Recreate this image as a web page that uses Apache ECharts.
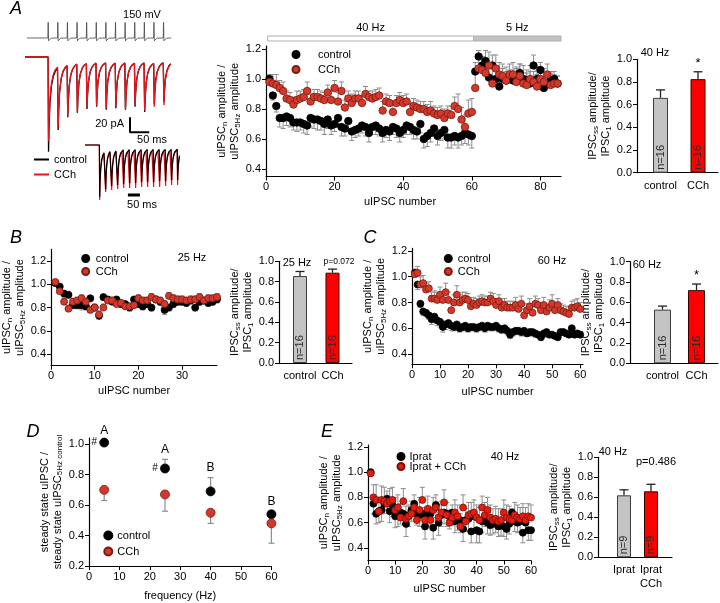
<!DOCTYPE html>
<html><head><meta charset="utf-8">
<script src="https://cdn.jsdelivr.net/npm/echarts@6.0.0/dist/echarts.min.js"></script>
<style>html,body{margin:0;padding:0;background:#fff}#c{width:720px;height:603px}</style>
</head><body><div id="c"></div>
<script>
// ---------------- DATA ----------------
// Panel A traces (stimulus times in ms, trough amplitudes in pA)
const stimTopMs = [60,85,110,135,160,185,210,235,260,285,310,335,360];
const trTopCtrl = [-126,-97,-80,-74,-69,-66,-70,-68,-70,-66,-73,-63,-60];
const trTopCch  = [-112,-93,-79,-73,-68,-65,-68,-66,-69,-65,-71,-66,-64];
const stimBotMs = [60,85,110,135,160,185,210,235,260,285,310,335,360,385];
const trBotCtrl = [-104,-88,-82,-80,-78,-76,-76,-74,-74,-74,-72,-72,-70,-70];
const trBotCch  = [-110,-94,-90,-88,-86,-86,-86,-84,-84,-84,-84,-82,-80,-80];
const decayMs   = [1.2, 2.5, 5, 9, 14, 19, 24.5];
const decayFrac = [1.0, 0.74, 0.48, 0.30, 0.20, 0.15, 0.12];
const spikeMs   = [-0.6, 0.3, 1.3, 3.5, 8];
const spikeMv   = [-70, 30, -88, -76, -71];

// Panel A 40 Hz / 5 Hz train
const aStimSeg = [[0.5, 60.5], [60.5, 86]];
const aStimLbl = ['40 Hz', '5 Hz'];
const aCtrl = [1.00,0.89,0.82,0.74,0.74,0.75,0.74,0.71,0.71,0.71,
 0.70,0.69,0.74,0.73,0.73,0.72,0.70,0.73,0.69,0.70,
 0.74,0.68,0.67,0.72,0.65,0.66,0.67,0.69,0.68,0.64,
 0.68,0.69,0.67,0.64,0.66,0.65,0.68,0.67,0.64,0.66,
 0.69,0.68,0.66,0.65,0.70,0.60,0.62,0.64,0.67,0.62,
 0.64,0.66,0.61,0.61,0.62,0.61,0.62,0.64,0.63,0.62,
 1.05,1.15,1.09,1.12,1.01,1.09,1.00,0.95,1.00,0.99,
 1.00,0.99,1.00,1.04,1.00,0.99,0.97,1.09,1.00,1.06,
 0.94,0.97,0.99,1.00,0.97];
const aCch = [0.98,0.97,0.96,0.94,0.92,0.87,0.86,0.83,0.86,0.87,
 0.88,0.92,0.85,0.88,0.88,0.87,0.86,0.91,0.86,0.94,
 0.85,0.92,0.81,0.87,0.84,0.87,0.87,0.84,0.90,0.88,
 0.87,0.88,0.89,0.79,0.85,0.84,0.78,0.84,0.86,0.84,
 0.85,0.78,0.82,0.81,0.80,0.80,0.78,0.79,0.77,0.76,
 0.77,0.74,0.77,0.76,0.82,0.80,0.73,0.68,0.77,0.78,
 0.94,1.07,1.06,1.04,1.09,0.97,1.07,1.03,1.02,0.99,
 1.03,1.03,0.98,1.02,0.97,0.96,1.00,0.98,0.95,1.00,
 0.98,1.03,0.96,0.97,0.97];
const aCtrlErr = [-0.02,-0.03,-0.04,-0.06,-0.07,-0.06,-0.06,-0.05,-0.06,-0.05,
 -0.06,-0.06,-0.06,-0.06,-0.07,-0.06,-0.07,-0.06,-0.06,-0.05,
 -0.06,-0.06,-0.05,-0.06,-0.06,-0.05,-0.05,-0.05,-0.06,-0.06,
 -0.05,-0.06,-0.05,-0.06,-0.05,-0.06,-0.05,-0.06,-0.06,-0.05,
 -0.06,-0.05,-0.06,-0.05,-0.06,-0.06,-0.07,-0.06,-0.05,-0.06,
 -0.05,-0.06,-0.07,-0.07,-0.06,-0.07,-0.06,-0.07,-0.07,-0.08,
 0.06,0.04,0.06,0.07,0.08,0.07,0.09,0.05,0.07,0.06,
 0.06,0.07,0.08,0.06,0.09,0.07,0.08,0.07,0.06,0.05,
 0.08,0.07,0.06,0.05,0.05];
const aCchErr = [0.05,0.06,0.07,0.05,0.06,0.05,0.05,0.05,0.06,0.05,
 0.05,0.06,0.05,0.05,0.05,0.05,0.05,0.05,0.06,0.05,
 0.06,0.06,0.05,0.05,0.06,0.05,0.05,0.05,0.05,0.04,
 0.05,0.05,0.05,0.06,0.05,0.05,0.06,0.05,0.05,0.05,
 0.05,0.06,0.05,0.05,0.05,0.05,0.05,0.06,0.05,0.05,
 0.05,0.06,0.05,0.06,0.06,0.10,0.08,0.08,0.09,0.09,
 0.10,0.08,0.09,0.08,0.09,0.10,0.09,0.08,0.08,0.09,
 0.07,0.08,0.09,0.08,0.07,0.08,0.09,0.07,0.08,0.08,
 0.09,0.07,0.08,0.06,0.05];

// Panel B (25 Hz)
const bCtrl = [1.01,0.98,0.92,0.91,0.82,0.82,0.82,0.81,0.88,0.80,
 0.73,0.89,0.87,0.85,0.87,0.83,0.83,0.80,0.87,0.83,
 0.81,0.83,0.80,0.87,0.85,0.78,0.80,0.83,0.85,0.85,
 0.84,0.86,0.80,0.85,0.86,0.84,0.85,0.87];
const bCch = [1.02,0.94,0.85,0.79,0.85,0.86,0.88,0.85,0.78,0.80,
 0.74,0.80,0.86,0.86,0.83,0.84,0.81,0.81,0.82,0.88,
 0.86,0.86,0.89,0.87,0.86,0.83,0.90,0.88,0.87,0.87,
 0.86,0.87,0.87,0.89,0.86,0.88,0.88,0.89];
const bCtrlErr = [-0.02,-0.03,-0.03,-0.03,-0.03,-0.03,-0.04,-0.03,-0.03,-0.03,
 -0.03,-0.03,-0.03,-0.02,-0.03,-0.03,-0.03,-0.03,-0.03,-0.03,
 -0.03,-0.03,-0.03,-0.03,-0.03,-0.04,-0.03,-0.03,-0.03,-0.03,
 -0.03,-0.03,-0.03,-0.03,-0.03,-0.03,-0.03,-0.03];
const bCchErr = [0.02,0.03,0.03,0.03,0.03,0.03,0.03,0.03,0.03,0.03,
 0.03,0.03,0.03,0.03,0.03,0.03,0.03,0.03,0.03,0.03,
 0.03,0.03,0.03,0.03,0.03,0.03,0.03,0.03,0.03,0.03,
 0.03,0.03,0.03,0.03,0.03,0.03,0.03,0.03];

// Panel C (60 Hz)
const cCtrl = [1.03,0.94,0.79,0.73,0.72,0.70,0.67,0.69,0.66,0.65,
 0.61,0.63,0.64,0.62,0.61,0.63,0.60,0.61,0.62,0.60,
 0.61,0.61,0.60,0.61,0.62,0.60,0.62,0.61,0.61,0.62,
 0.60,0.59,0.60,0.58,0.55,0.57,0.58,0.58,0.57,0.58,
 0.56,0.57,0.57,0.56,0.55,0.53,0.56,0.57,0.55,0.55,
 0.54,0.53,0.57,0.57,0.56,0.55,0.60,0.55,0.56,0.55];
const cCch = [1.02,1.03,0.94,0.95,0.90,0.91,0.83,0.83,0.82,0.86,
 0.82,0.88,0.82,0.74,0.80,0.86,0.80,0.82,0.83,0.82,
 0.77,0.79,0.78,0.80,0.81,0.80,0.80,0.83,0.81,0.78,
 0.81,0.76,0.78,0.76,0.76,0.76,0.78,0.75,0.79,0.70,
 0.74,0.77,0.72,0.79,0.78,0.74,0.78,0.73,0.76,0.79,
 0.74,0.78,0.74,0.73,0.72,0.71,0.76,0.76,0.77,0.75];
const cCtrlErr = [-0.03,-0.04,-0.03,-0.03,-0.03,-0.03,-0.04,-0.03,-0.04,-0.04,
 -0.04,-0.04,-0.03,-0.04,-0.03,-0.04,-0.03,-0.03,-0.04,-0.03,
 -0.03,-0.03,-0.03,-0.03,-0.03,-0.03,-0.03,-0.03,-0.03,-0.03,
 -0.03,-0.03,-0.03,-0.03,-0.03,-0.03,-0.03,-0.03,-0.03,-0.03,
 -0.02,-0.03,-0.03,-0.03,-0.02,-0.02,-0.03,-0.02,-0.02,-0.02,
 -0.02,-0.02,-0.02,-0.02,-0.02,-0.02,-0.02,-0.02,-0.02,-0.02];
const cCchErr = [0.04,0.05,0.06,0.06,0.05,0.05,0.05,0.06,0.06,0.06,
 0.06,0.07,0.06,0.06,0.06,0.07,0.06,0.06,0.05,0.05,
 0.05,0.05,0.05,0.05,0.05,0.05,0.05,0.05,0.06,0.05,
 0.05,0.05,0.05,0.05,0.05,0.05,0.06,0.05,0.06,0.05,
 0.05,0.06,0.05,0.06,0.05,0.05,0.06,0.06,0.06,0.07,
 0.05,0.05,0.05,0.05,0.05,0.06,0.05,0.06,0.06,0.05];

// Panel D (steady state vs frequency)
const dFreq = [5, 25, 40, 60];
const dCtrl = [1.01, 0.84, 0.69, 0.54];
const dCtrlErr = [0.01, 0.06, 0.09, 0.02];
const dCch = [0.70, 0.67, 0.55, 0.48];
const dCchErr = [-0.07, -0.11, -0.07, -0.13];
const dLetters = ['A', 'A', 'B', 'B'];
const dHash = ['#', '#', '', ''];

// Panel E (40 Hz, ipratropium)
const eIp = [1.00,0.75,0.67,0.69,0.70,0.75,0.79,0.69,0.74,0.65,
 0.66,0.68,0.67,0.59,0.66,0.70,0.75,0.67,0.66,0.67,
 0.57,0.67,0.67,0.56,0.74,0.60,0.66,0.68,0.67,0.65,
 0.68,0.61,0.63,0.62,0.55,0.62,0.63,0.53,0.65,0.54,
 0.53,0.61,0.65,0.60,0.58,0.59,0.60,0.57,0.58,0.57,
 0.55,0.59,0.68,0.61,0.60,0.61,0.52,0.60,0.54,0.54];
const eIpC = [0.99,0.80,0.78,0.69,0.78,0.77,0.75,0.77,0.78,0.70,
 0.72,0.64,0.77,0.63,0.65,0.67,0.72,0.62,0.70,0.78,
 0.62,0.71,0.62,0.70,0.72,0.64,0.68,0.76,0.66,0.60,
 0.64,0.68,0.65,0.57,0.72,0.61,0.66,0.67,0.68,0.64,
 0.62,0.72,0.66,0.70,0.64,0.62,0.63,0.61,0.62,0.68,
 0.64,0.63,0.62,0.66,0.64,0.63,0.65,0.62,0.65,0.64];
const eIpErr = [-0.01,-0.08,-0.08,-0.09,-0.09,-0.08,-0.09,-0.09,-0.09,-0.09,
 -0.09,-0.09,-0.09,-0.10,-0.09,-0.09,-0.10,-0.09,-0.09,-0.10,
 -0.10,-0.09,-0.10,-0.09,-0.10,-0.10,-0.09,-0.09,-0.10,-0.10,
 -0.10,-0.09,-0.09,-0.10,-0.10,-0.09,-0.09,-0.09,-0.10,-0.10,
 -0.09,-0.09,-0.08,-0.09,-0.08,-0.08,-0.08,-0.08,-0.08,-0.08,
 -0.08,-0.08,-0.08,-0.08,-0.08,-0.08,-0.08,-0.08,-0.08,-0.08];
const eIpCErr = [0.02,0.10,0.12,0.11,0.11,0.11,0.10,0.10,0.10,0.10,
 0.10,0.11,0.10,0.10,0.09,0.10,0.10,0.09,0.10,0.10,
 0.10,0.10,0.09,0.10,0.10,0.10,0.09,0.10,0.10,0.10,
 0.10,0.10,0.09,0.10,0.10,0.10,0.10,0.09,0.10,0.10,
 0.10,0.09,0.10,0.10,0.10,0.09,0.10,0.10,0.09,0.10,
 0.10,0.10,0.09,0.10,0.10,0.09,0.10,0.10,0.10,0.10];

// Bar panels: steady-state / first IPSC
const aBarCats = ['control', 'CCh'];
const aBarVals = [0.66, 0.825]; const aBarErr = [0.07, 0.065]; const aBarN = ['n=16', 'n=16']; const aBarSig = ['', '*'];
const bBarCats = ['control', 'CCh'];
const bBarVals = [0.855, 0.888]; const bBarErr = [0.045, 0.035]; const bBarN = ['n=16', 'n=16']; const bBarSig = ['', ''];
const cBarCats = ['control', 'CCh'];
const cBarVals = [0.528, 0.72]; const cBarErr = [0.035, 0.06]; const cBarN = ['n=16', 'n=16']; const cBarSig = ['', '*'];
const eBarCats = ['Iprat', 'Iprat\nCCh'];
const eBarVals = [0.62, 0.66]; const eBarErr = [0.055, 0.07]; const eBarN = ['n=9', 'n=9']; const eBarSig = ['', ''];

// ---------------- BUILD ----------------
const FONT = "'Liberation Sans', Arial, Helvetica, sans-serif";
const F = (s, w) => (w || '') + ' ' + s + 'px ' + FONT;
const RED = '#d2392c', REDB = '#7a1b12', ERRG = '#8e8e8e';

const idx = n => Array.from({length: n}, (_, i) => i + 1);
const pairs = (xs, ys) => xs.map((x, i) => [x, ys[i]]);

function buildTrace(stims, troughs, endMs) {
  const pts = [[0, 0]]; let prev = 0;
  stims.forEach((t, i) => {
    const next = i < stims.length - 1 ? stims[i + 1] : endMs;
    pts.push([t, prev]);
    decayMs.forEach((d, k) => {
      if (t + d <= next) { prev = troughs[i] * decayFrac[k]; pts.push([t + d, prev]); }
    });
  });
  return pts;
}
function buildSpikes(stims, start, end) {
  const pts = [[start, spikeMv[0]]];
  stims.forEach(t => spikeMs.forEach((d, k) => pts.push([t + d, spikeMv[k]])));
  pts.push([end, spikeMv[0]]);
  return pts;
}

const RICH = {
  n: {fontSize: 11, fontFamily: FONT, color: '#000', lineHeight: 13},
  s: {fontSize: 8, fontFamily: FONT, color: '#000', lineHeight: 6, verticalAlign: 'bottom'}
};
const NTS = {fontSize: 11, fontFamily: FONT, color: '#000'};
const YNTS = {fontSize: 11, fontFamily: FONT, color: '#000', lineHeight: 13, rich: RICH};
const f1 = v => v.toFixed(1);
const f0 = v => String(v);

function vAxis(gi, min, max, ticks, fmt, extra) {
  return Object.assign({
    type: 'value', gridIndex: gi, min: min, max: max,
    axisLine: {show: true, onZero: false, lineStyle: {color: '#000', width: 1.2}},
    axisTick: {show: true, length: 4, customValues: ticks, lineStyle: {color: '#000', width: 1}},
    axisLabel: {show: true, customValues: ticks, formatter: fmt, fontSize: 11, fontFamily: FONT, color: '#000', margin: 5},
    splitLine: {show: false}
  }, extra || {});
}
function hidAxis(gi, min, max) { return {type: 'value', gridIndex: gi, min: min, max: max, show: false, splitLine: {show: false}}; }
function barXAxis(gi, min, max, cats) {
  return {
    type: 'value', gridIndex: gi, min: min, max: max,
    axisLine: {show: true, onZero: false, lineStyle: {color: '#000', width: 1.2}},
    axisTick: {show: false},
    axisLabel: {show: true, customValues: [1, 2], formatter: v => cats[Math.round(v) - 1], fontSize: 11, fontFamily: FONT, color: '#000', margin: 6, lineHeight: 14},
    splitLine: {show: false}
  };
}
const yNameCur = '{n|uIPSC}{s|n}{n| amplitude /}\n{n|uIPSC}{s|5Hz}{n| amplitude}';
const yNameBar = '{n|IPSC}{s|ss}{n| amplitude/}\n{n|IPSC}{s|1}{n| amplitude}';
const yNameD = '{n|steady state uIPSC /}\n{n|steady state uIPSC}{s|5Hz control}';
const yName = (name, gap) => ({name: name, nameLocation: 'middle', nameRotate: 90, nameGap: gap, nameTextStyle: YNTS});
const xName = (name, gap, pad) => ({name: name, nameLocation: 'middle', nameGap: gap, nameTextStyle: Object.assign({}, NTS, pad ? {padding: pad} : {})});

function errSeries(gi, xs, ys, es, color, cap, lw) {
  return {
    type: 'custom', xAxisIndex: gi, yAxisIndex: gi, z: 2, silent: true,
    data: xs.map((x, i) => [x, ys[i], es[i]]),
    renderItem: (p, api) => {
      const x = api.value(0), y = api.value(1), e = api.value(2);
      const a = api.coord([x, y]), b = api.coord([x, y + e]);
      return {type: 'group', children: [
        {type: 'line', shape: {x1: a[0], y1: a[1], x2: b[0], y2: b[1]}, style: {stroke: color, lineWidth: lw}},
        {type: 'line', shape: {x1: b[0] - cap, y1: b[1], x2: b[0] + cap, y2: b[1]}, style: {stroke: color, lineWidth: lw}}
      ]};
    }
  };
}
function scat(gi, name, xs, ys, color, border, size, z) {
  return {type: 'scatter', name: name, xAxisIndex: gi, yAxisIndex: gi, z: z, silent: true,
    data: pairs(xs, ys), symbol: 'circle', symbolSize: size,
    itemStyle: {color: color, borderColor: border, borderWidth: 0.8, opacity: 1}};
}
function barSeries(gi, vals, nlab, width) {
  const styles = [{color: '#c4c4c4', borderColor: '#3c3c3c', borderWidth: 1}, {color: '#ff0000', borderColor: '#3a0000', borderWidth: 1}];
  return {type: 'bar', xAxisIndex: gi, yAxisIndex: gi, barWidth: width, silent: true, z: 2,
    data: vals.map((v, i) => ({value: [i + 1, v], itemStyle: styles[i]})),
    label: {show: true, position: 'insideBottom', rotate: 90, align: 'left', verticalAlign: 'middle', distance: 3,
      formatter: p => nlab[p.dataIndex], fontSize: 11, fontFamily: FONT, color: '#2a2a2a'}};
}
function barErrSeries(gi, vals, errs, sig) {
  return {type: 'custom', xAxisIndex: gi, yAxisIndex: gi, z: 3, silent: true,
    data: vals.map((v, i) => [i + 1, v, errs[i]]),
    renderItem: (p, api) => {
      const x = api.value(0), y = api.value(1), e = api.value(2);
      const a = api.coord([x, y]), b = api.coord([x, y + e]);
      const ch = [
        {type: 'line', shape: {x1: a[0], y1: a[1], x2: b[0], y2: b[1]}, style: {stroke: '#222', lineWidth: 1.3}},
        {type: 'line', shape: {x1: b[0] - 4.5, y1: b[1], x2: b[0] + 4.5, y2: b[1]}, style: {stroke: '#222', lineWidth: 1.3}}
      ];
      const s = sig[p.dataIndex];
      if (s) ch.push({type: 'text', style: {text: s, x: b[0], y: b[1] - 2, align: 'center', verticalAlign: 'bottom', font: F(13), fill: '#000'}});
      return {type: 'group', children: ch};
    }};
}

const aN = idx(85), bN = idx(38), cN = idx(60), eN = idx(60);

const grids = [
  {left: 25, top: 20, width: 150, height: 25},      // 0 voltage trace
  {left: 25, top: 50, width: 150, height: 110},     // 1 current traces (top)
  {left: 85, top: 140, width: 100, height: 65},     // 2 current traces (bottom)
  {left: 266, top: 46, width: 295, height: 130.5},  // 3 A scatter
  {left: 637, top: 59.3, width: 81, height: 113.4}, // 4 A bar
  {left: 51, top: 249.4, width: 166, height: 116.3},// 5 B scatter
  {left: 279, top: 261.3, width: 73, height: 101.7},// 6 B bar
  {left: 412, top: 248.4, width: 171, height: 115.9},// 7 C scatter
  {left: 630, top: 261.7, width: 88, height: 101.6},// 8 C bar
  {left: 89, top: 438, width: 182.4, height: 128.1},// 9 D
  {left: 368, top: 445, width: 163, height: 115.5}, // 10 E scatter
  {left: 598, top: 457.3, width: 74, height: 100}   // 11 E bar
].map(g => Object.assign(g, {containLabel: false, outerBoundsMode: 'none'}));

const yTicksCur = [0.4, 0.6, 0.8, 1.0, 1.2];
const yTicksBar = [0, 0.2, 0.4, 0.6, 0.8, 1.0];

const xAxes = [
  hidAxis(0, 0, 390), hidAxis(1, 0, 390), hidAxis(2, 0, 417),
  vAxis(3, 0, 86, [0, 20, 40, 60, 80], f0, xName('uIPSC number', 20, [0, 27, 0, 0])),
  barXAxis(4, 0.373, 2.533, aBarCats),
  vAxis(5, 0, 38, [0, 10, 20, 30], f0, xName('uIPSC number', 20)),
  barXAxis(6, 0.354, 2.6, bBarCats),
  vAxis(7, 0, 61, [0, 10, 20, 30, 40, 50, 60], f0, xName('uIPSC number', 22)),
  barXAxis(8, 0.044, 2.632, cBarCats),
  vAxis(9, 0, 60, [0, 10, 20, 30, 40, 50, 60], f0, xName('frequency (Hz)', 24)),
  vAxis(10, 0, 60, [0, 10, 20, 30, 40, 50, 60], f0, xName('uIPSC number', 23)),
  barXAxis(11, 0.037, 2.778, eBarCats)
];
const yAxes = [
  hidAxis(0, -115, 45), hidAxis(1, -137, 9.3), hidAxis(2, -120, 10),
  vAxis(3, 0.35, 1.22, yTicksCur, f1, yName(yNameCur, 22)),
  vAxis(4, 0, 1, yTicksBar, f1, yName(yNameBar, 23)),
  vAxis(5, 0.3, 1.3, yTicksCur, f1, yName(yNameCur, 23)),
  vAxis(6, 0, 1, yTicksBar, f1, yName(yNameBar, 22)),
  vAxis(7, 0.32, 1.22, yTicksCur, f1, yName(yNameCur, 23)),
  vAxis(8, 0, 1, yTicksBar, f1, yName(yNameBar, 22)),
  vAxis(9, 0.2, 1.04, [0.2, 0.4, 0.6, 0.8, 1.0], f1, yName(yNameD, 25)),
  vAxis(10, 0.3, 1.215, yTicksCur, f1, yName(yNameCur, 23)),
  vAxis(11, 0, 1, yTicksBar, f1, yName(yNameBar, 22))
];

const lineS = (gi, name, data, color, w, z) => ({type: 'line', name: name, xAxisIndex: gi, yAxisIndex: gi, data: data,
  showSymbol: false, symbol: 'none', silent: true, z: z, itemStyle: {color: color},
  lineStyle: {color: color, width: w}, animation: false});

const series = [
  // traces
  lineS(0, 'vm', buildSpikes(stimTopMs, 5, 380), '#444', 0.8, 2),
  lineS(1, 'trCtrl', buildTrace(stimTopMs, trTopCtrl, 380), '#000', 1.3, 2),
  lineS(1, 'trCch', buildTrace(stimTopMs, trTopCch, 380), '#e8141b', 1.3, 3),
  lineS(1, 'bar1', [[273, -80], [273, -100], [323, -100]], '#000', 2, 4),
  lineS(2, 'trCch2', buildTrace(stimBotMs, trBotCch, 395), '#e8141b', 1.2, 2),
  lineS(2, 'trCtrl2', buildTrace(stimBotMs, trBotCtrl, 395), '#000', 1.2, 3),
  lineS(2, 'bar2', [[179, -100], [229, -100]], '#000', 3, 4),
  // A
  {type: 'custom', xAxisIndex: 3, yAxisIndex: 3, silent: true, z: 1, data: aStimSeg,
    renderItem: (p, api) => {
      const cs = p.coordSys, i = p.dataIndex;
      const x1 = api.coord([api.value(0), 0.4])[0], x2 = api.coord([api.value(1), 0.4])[0];
      return {type: 'group', children: [
        {type: 'rect', shape: {x: x1, y: cs.y - 10, width: x2 - x1, height: 5}, style: {fill: i ? '#c2c2c2' : '#fff', stroke: '#b0b0b0', lineWidth: 1}},
        {type: 'text', style: {text: aStimLbl[i], x: (x1 + x2) / 2, y: cs.y - 18, align: 'center', verticalAlign: 'middle', font: F(11), fill: '#000'}}
      ]};
    }},
  errSeries(3, aN, aCtrl, aCtrlErr, ERRG, 2.5, 1),
  errSeries(3, aN, aCch, aCchErr, ERRG, 2.5, 1),
  scat(3, 'A_control', aN, aCtrl, '#000', '#000', 7.5, 3),
  scat(3, 'A_CCh', aN, aCch, RED, REDB, 7.5, 4),
  barSeries(4, aBarVals, aBarN, 15), barErrSeries(4, aBarVals, aBarErr, aBarSig),
  // B
  errSeries(5, bN, bCtrl, bCtrlErr, ERRG, 2.5, 1),
  errSeries(5, bN, bCch, bCchErr, ERRG, 2.5, 1),
  scat(5, 'B_control', bN, bCtrl, '#000', '#000', 7, 3),
  scat(5, 'B_CCh', bN, bCch, RED, REDB, 7, 4),
  barSeries(6, bBarVals, bBarN, 14), barErrSeries(6, bBarVals, bBarErr, bBarSig),
  // C
  errSeries(7, cN, cCtrl, cCtrlErr, ERRG, 2.5, 1),
  errSeries(7, cN, cCch, cCchErr, ERRG, 2.5, 1),
  scat(7, 'C_control', cN, cCtrl, '#000', '#000', 7, 3),
  scat(7, 'C_CCh', cN, cCch, RED, REDB, 7, 4),
  barSeries(8, cBarVals, cBarN, 17), barErrSeries(8, cBarVals, cBarErr, cBarSig),
  // D
  errSeries(9, dFreq, dCtrl, dCtrlErr, ERRG, 3, 1.2),
  errSeries(9, dFreq, dCch, dCchErr, ERRG, 3, 1.2),
  scat(9, 'D_control', dFreq, dCtrl, '#000', '#000', 9, 3),
  scat(9, 'D_CCh', dFreq, dCch, RED, REDB, 9, 4),
  {type: 'custom', xAxisIndex: 9, yAxisIndex: 9, silent: true, z: 5, data: pairs(dFreq, dCtrl).map((d, i) => d.concat([dCtrlErr[i]])),
    renderItem: (p, api) => {
      const i = p.dataIndex, x = api.value(0), y = api.value(1), e = api.value(2);
      const pt = api.coord([x, y]), top = api.coord([x, y + Math.max(e, 0)]);
      const ch = [{type: 'text', style: {text: dLetters[i], x: pt[0], y: top[1] - 4, align: 'center', verticalAlign: 'bottom', font: F(12), fill: '#000'}}];
      if (dHash[i]) ch.push({type: 'text', style: {text: dHash[i], x: pt[0] - 10, y: pt[1], align: 'center', verticalAlign: 'middle', font: F(10), fill: '#000'}});
      return {type: 'group', children: ch};
    }},
  // E
  errSeries(10, eN, eIp, eIpErr, ERRG, 2.5, 1),
  errSeries(10, eN, eIpC, eIpCErr, ERRG, 2.5, 1),
  scat(10, 'E_ip', eN, eIp, '#000', '#000', 7, 3),
  scat(10, 'E_ipc', eN, eIpC, '#e01e12', '#7a0f08', 7, 4),
  barSeries(11, eBarVals, eBarN, 14), barErrSeries(11, eBarVals, eBarErr, eBarSig)
];

const legendNames = {trCtrl: 'control', trCch: 'CCh', A_control: 'control', A_CCh: 'CCh', B_control: 'control', B_CCh: 'CCh',
  C_control: 'control', C_CCh: 'CCh', D_control: 'control', D_CCh: 'CCh', E_ip: 'Iprat', E_ipc: 'Iprat + CCh'};
const LTS = {fontSize: 11, fontFamily: FONT, color: '#000'};
const leg = (left, top, names, w, h, gap, icon) => ({left: left, top: top, orient: 'vertical', itemWidth: w, itemHeight: h,
  itemGap: gap, icon: icon, data: names, formatter: n => legendNames[n], textStyle: LTS, selectedMode: false, padding: 0});
const legends = [
  leg(34, 154, ['trCtrl', 'trCch'], 15, 2, 4, 'rect'),
  leg(291.5, 49, ['A_control', 'A_CCh'], 34, 7, 4, 'circle'),
  leg(81.2, 253, ['B_control', 'B_CCh'], 10, 7, 2, 'circle'),
  leg(443.8, 253, ['C_control', 'C_CCh'], 9, 7, 2, 'circle'),
  leg(103.3, 530, ['D_control', 'D_CCh'], 8, 8, 5, 'circle'),
  leg(396.5, 451, ['E_ip', 'E_ipc'], 7, 7, -1, 'circle')
];

const T = (text, x, y, font, align) => ({type: 'text', x: x, y: y, silent: true,
  style: {text: text, font: font, fill: '#000', align: align || 'center', verticalAlign: 'middle'}});
const graphics = [
  T('A', 16, 9, F(18, 'italic')),
  T('B', 16, 238, F(18, 'italic')),
  T('C', 370, 238, F(18, 'italic')),
  T('D', 33, 432, F(18, 'italic')),
  T('E', 327, 432, F(18, 'italic')),
  T('150 mV', 142, 15, F(11)),
  T('20 pA', 124, 124, F(11), 'right'),
  T('50 ms', 152, 140, F(11)),
  T('50 ms', 142, 205, F(11)),
  T('40 Hz', 655, 53, F(11)),
  T('25 Hz', 192, 258, F(11)),
  T('25 Hz', 297, 263, F(11)),
  T('p=0.072', 339, 262, F(8.5)),
  T('60 Hz', 552, 261, F(11)),
  T('60 Hz', 647, 265, F(11)),
  T('40 Hz', 505, 457, F(11)),
  T('40 Hz', 613, 452, F(11)),
  T('p=0.486', 656, 462, F(11))
];

const chart = echarts.init(document.getElementById('c'), null, {renderer: 'canvas'});
chart.setOption({
  backgroundColor: '#fff', animation: false,
  grid: grids, xAxis: xAxes, yAxis: yAxes, series: series, legend: legends, graphic: {elements: graphics}
});
</script></body></html>
